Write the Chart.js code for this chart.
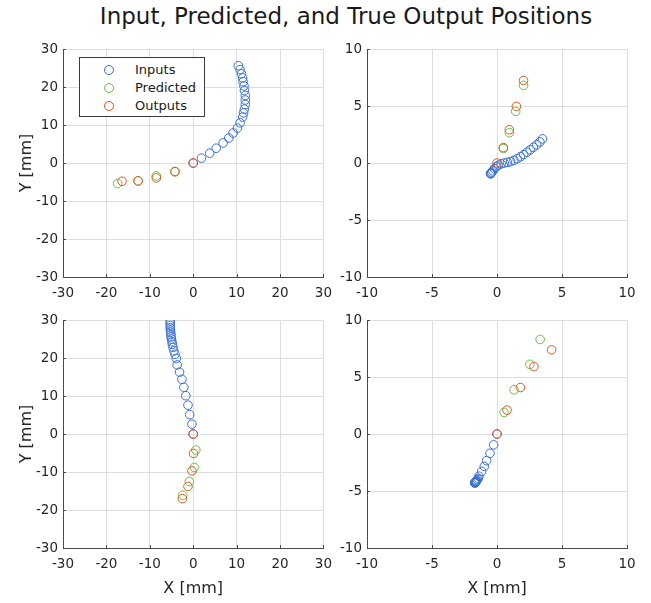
<!DOCTYPE html>
<html><head><meta charset="utf-8">
<script src="https://cdn.jsdelivr.net/npm/chart.js@4.4.1/dist/chart.umd.min.js"></script>
<style>
body{margin:0;background:#fff;width:651px;height:603px;overflow:hidden;position:relative;font-family:"DejaVu Sans",sans-serif;}
canvas{position:absolute;}
#title{position:absolute;top:3px;left:0;width:692px;text-align:center;font-size:23px;color:#1a1a1a;white-space:nowrap;}
#legend{position:absolute;left:79px;top:57px;width:126px;height:60px;border:1px solid #3a3a3a;background:#fff;font-size:13px;color:#1a1a1a;z-index:5;box-sizing:border-box;}
.row{position:absolute;left:0;height:18px;line-height:18px;}
.mk{position:absolute;left:24px;top:4px;width:8px;height:8px;border-radius:50%;border:1px solid;box-sizing:content-box;}
.tx{position:absolute;left:55px;top:0;}
</style></head>
<body>
<div id="title">Input, Predicted, and True Output Positions</div>
<div id="legend">
  <div class="row" style="top:3px"><span class="mk" style="border-color:#3a6fd0"></span><span class="tx">Inputs</span></div>
  <div class="row" style="top:21px"><span class="mk" style="border-color:#66c23e"></span><span class="tx">Predicted</span></div>
  <div class="row" style="top:39px"><span class="mk" style="border-color:#e0561e"></span><span class="tx">Outputs</span></div>
</div>
<canvas id="c1" width="340" height="270" style="left:0;top:36px"></canvas>
<canvas id="c2" width="331" height="270" style="left:320px;top:36px"></canvas>
<canvas id="c3" width="340" height="296" style="left:0;top:307px"></canvas>
<canvas id="c4" width="331" height="296" style="left:320px;top:307px"></canvas>
<script>
// ---- data ----
const seriesNames = ["Inputs", "Predicted", "Outputs"];
const xLabel = "X [mm]";
const yLabel = "Y [mm]";

// top-left
const tlInX = [10.4,10.8,11.1,11.4,11.5,11.7,11.8,12.0,12.0,12.0,11.8,11.6,11.4,10.8,10.2,9.2,8.2,6.9,5.3,3.8,1.9,0];
const tlInY = [25.6,24.6,23.5,22.4,21.4,20.3,19.1,17.8,16.6,15.4,14.2,13.2,12.1,10.6,9.2,7.9,6.6,5.3,3.9,2.6,1.3,0];
const tlPredX = [-4.2,-8.5,-12.7,-17.4];
const tlPredY = [-2.2,-3.4,-4.7,-5.4];
const tlOutX = [0,-4.2,-8.5,-12.7,-16.4];
const tlOutY = [0,-2.3,-3.9,-4.7,-4.8];

// top-right
const trInX = [-0.5,-0.48,-0.45,-0.4,-0.32,-0.2,-0.05,0.12,0.32,0.55,0.8,1.05,1.3,1.55,1.8,2.05,2.3,2.55,2.8,3.05,3.3,3.5];
const trInY = [-0.95,-0.92,-0.88,-0.8,-0.68,-0.5,-0.32,-0.18,-0.07,0.0,0.06,0.13,0.24,0.38,0.55,0.74,0.95,1.16,1.38,1.6,1.85,2.12];
const trPredX = [0.49,0.95,1.44,2.04];
const trPredY = [1.27,2.66,4.54,6.82];
const trOutX = [0,0.49,0.95,1.49,2.04];
const trOutY = [0,1.36,2.92,4.97,7.25];

// bottom-left
const blInX = [-5.3,-5.3,-5.3,-5.28,-5.25,-5.2,-5.15,-5.1,-5.0,-4.9,-4.8,-4.65,-4.45,-4.2,-3.9,-3.7,-3.15,-2.6,-2.15,-1.7,-1.2,-0.8,-0.3,0];
const blInY = [29.8,29.2,28.6,28.0,27.4,26.8,26.2,25.6,25.0,24.3,23.6,22.8,21.9,21.0,19.9,18.2,16.3,14.4,12.3,10.1,7.6,5.1,2.6,0];
const blPredX = [0.6,0.25,-0.9,-2.4];
const blPredY = [-4.2,-8.8,-12.5,-16.1];
const blOutX = [0,0.08,-0.3,-1.2,-2.5];
const blOutY = [0,-5.1,-9.7,-13.8,-17.0];

// bottom-right
const brInX = [-1.72,-1.7,-1.68,-1.66,-1.64,-1.62,-1.6,-1.57,-1.52,-1.45,-1.39,-1.18,-0.98,-0.8,-0.54,-0.26,0];
const brInY = [-4.3,-4.28,-4.25,-4.22,-4.2,-4.17,-4.13,-4.08,-4.0,-3.9,-3.7,-3.28,-2.84,-2.33,-1.69,-0.95,0];
const brPredX = [0.54,1.31,2.53,3.32];
const brPredY = [1.9,3.88,6.12,8.3];
const brOutX = [0,0.77,1.8,2.84,4.2];
const brOutY = [0,2.1,4.08,5.92,7.39];

// ---- drawing ----
const colors = ["#3a6fd0", "#66c23e", "#e0561e"];
const zip = (xs, ys) => xs.map((x, i) => ({x, y: ys[i]}));

// short inward tick marks on the left and bottom axes
const inwardTicks = {
  id: "inwardTicks",
  afterDatasetsDraw(chart) {
    const {ctx, chartArea: a, scales: {x, y}} = chart;
    ctx.save();
    ctx.strokeStyle = "#4a4a4a";
    ctx.lineWidth = 1;
    ctx.beginPath();
    x.ticks.forEach(t => { const px = Math.round(x.getPixelForValue(t.value)) + 0.5; ctx.moveTo(px, a.bottom); ctx.lineTo(px, a.bottom - 3); });
    y.ticks.forEach(t => { const py = Math.round(y.getPixelForValue(t.value)) + 0.5; ctx.moveTo(a.left, py); ctx.lineTo(a.left + 3, py); });
    ctx.stroke();
    ctx.restore();
  }
};

function make(id, lim, step, sets, opt) {
  const datasets = sets.map((s, i) => ({
    label: seriesNames[i],
    data: zip(s[0], s[1]),
    borderColor: colors[i],
    backgroundColor: "rgba(0,0,0,0)",
    pointRadius: 4.3,
    pointBorderWidth: 1,
    pointHoverRadius: 4.3,
    order: 2 - i
  }));
  const tickFont = {family: "DejaVu Sans", size: 13.5};
  const titleFont = {family: "DejaVu Sans", size: 16};
  new Chart(document.getElementById(id), {
    type: "scatter",
    data: {datasets},
    plugins: [inwardTicks],
    options: {
      responsive: false,
      animation: false,
      events: [],
      layout: {padding: {top: 10, right: opt.right, left: 0, bottom: 0}},
      plugins: {legend: {display: false}, tooltip: {enabled: false}},
      scales: {
        x: {
          type: "linear", min: -lim, max: lim,
          ticks: {stepSize: step, font: tickFont, color: "#262626", padding: 8, maxRotation: 0},
          grid: {color: "#dedede", drawTicks: false},
          border: {color: "#4a4a4a", width: 1},
          title: {display: opt.xTitle, text: xLabel, font: titleFont, color: "#262626", padding: {top: 0, bottom: 5}},
          afterFit: s => { s.height = opt.xh; }
        },
        y: {
          type: "linear", min: -lim, max: lim,
          ticks: {stepSize: step, font: tickFont, color: "#262626", padding: 5},
          grid: {color: "#dedede", drawTicks: false},
          border: {color: "#4a4a4a", width: 1},
          title: {display: opt.yTitle, text: yLabel, font: titleFont, color: "#262626", padding: {top: 17, bottom: 0}},
          afterFit: s => { s.width = opt.yw; }
        }
      }
    }
  });
}

make("c1", 30, 10, [[tlInX, tlInY], [tlPredX, tlPredY], [tlOutX, tlOutY]], {right: 16, xh: 29, yw: 63, xTitle: false, yTitle: true});
make("c2", 10, 5, [[trInX, trInY], [trPredX, trPredY], [trOutX, trOutY]], {right: 24, xh: 29, yw: 47, xTitle: false, yTitle: false});
make("c3", 30, 10, [[blInX, blInY], [blPredX, blPredY], [blOutX, blOutY]], {right: 16, xh: 55, yw: 63, xTitle: true, yTitle: true});
make("c4", 10, 5, [[brInX, brInY], [brPredX, brPredY], [brOutX, brOutY]], {right: 24, xh: 55, yw: 47, xTitle: true, yTitle: false});
</script>
</body></html>
